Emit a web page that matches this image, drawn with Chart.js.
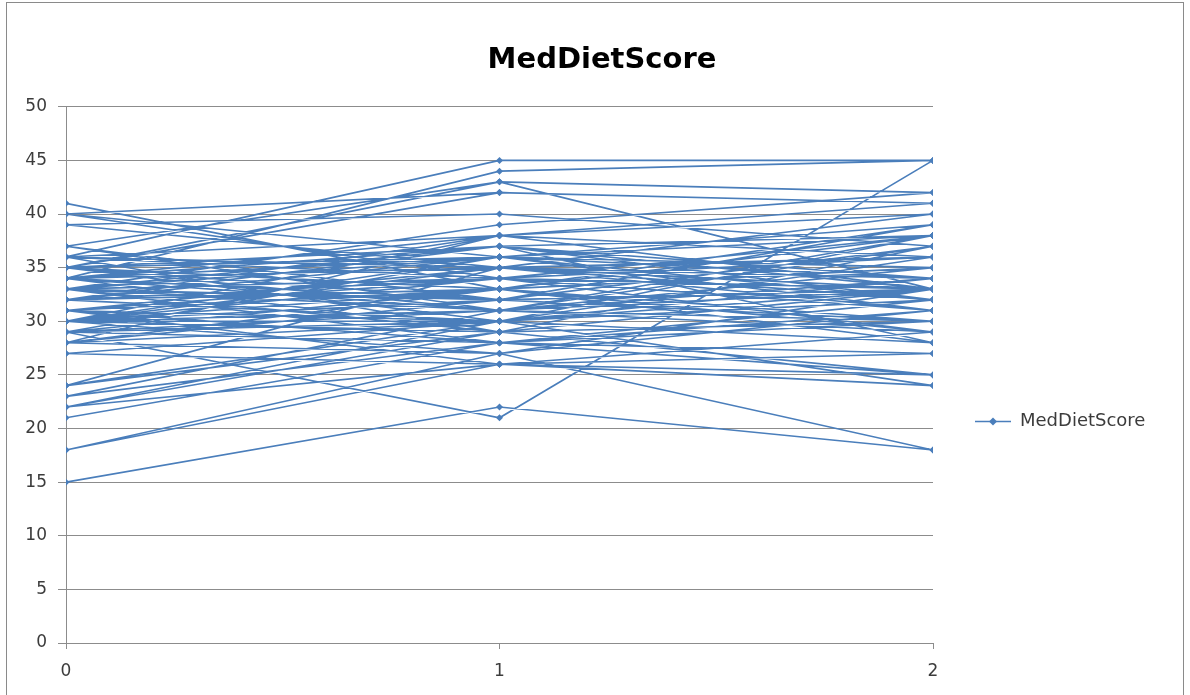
<!DOCTYPE html>
<html>
<head>
<meta charset="utf-8">
<script src="https://cdn.jsdelivr.net/npm/chart.js@4.4.1/dist/chart.umd.min.js"></script>
<style>
  html, body { margin: 0; padding: 0; background: #fff; }
  #wrap { width: 1190px; height: 695px; position: relative; }
</style>
</head>
<body>
<div id="wrap"><canvas id="chart" width="1190" height="695"></canvas></div>
<script>
// time points on the x axis
const timePoints = [0, 1, 2];
const yTicks = [0, 5, 10, 15, 20, 25, 30, 35, 40, 45, 50];
const seriesName = 'MedDietScore';

// one entry per subject: score at time 0, 1 and 2
const score0 = [15, 29, 18, 18, 21, 22, 22, 22, 23, 23, 24, 24, 24, 27, 27, 28, 28, 28, 29, 29,
                30, 30, 30, 30, 31, 31, 31, 32, 32, 32, 33, 33, 33, 34, 34, 34, 34, 35, 35, 35,
                35, 36, 36, 36, 37, 37, 39, 39, 40, 40, 40, 41, 29, 31, 33, 30, 32, 36, 34, 28,
                35, 33, 30, 37, 31, 29, 30, 31, 32, 33, 34, 35, 29, 30, 31, 32, 33, 34, 35, 36,
                28, 30, 32, 34, 31, 33, 29, 35, 32, 30, 34];
const score1 = [22, 21, 27, 26, 28, 29, 26, 30, 28, 31, 30, 29, 35, 26, 30, 38, 32, 27, 33, 30,
                34, 31, 36, 29, 35, 28, 33, 37, 30, 34, 36, 32, 29, 44, 38, 31, 35, 42, 33, 37,
                30, 45, 34, 38, 43, 32, 40, 35, 42, 34, 36, 33, 28, 26, 37, 32, 38, 29, 36, 33,
                43, 39, 27, 31, 35, 36, 35, 30, 34, 31, 37, 32, 33, 38, 30, 36, 34, 29, 31, 35,
                30, 33, 37, 32, 34, 28, 31, 36, 33, 30, 38];
const score2 = [18, 45, 33, 29, 32, 37, 24, 34, 31, 38, 33, 25, 40, 25, 33, 41, 30, 18, 35, 28,
                36, 33, 38, 30, 32, 27, 39, 34, 24, 33, 31, 37, 30, 45, 36, 29, 33, 41, 28, 38,
                32, 45, 31, 40, 42, 33, 37, 34, 41, 38, 39, 35, 25, 27, 33, 37, 40, 33, 35, 29,
                33, 42, 31, 30, 36, 32, 33, 38, 31, 35, 32, 37, 30, 33, 36, 34, 29, 33, 37, 31,
                33, 35, 28, 39, 33, 30, 34, 32, 38, 36, 33];

const lineColor = '#4a7ebb';
const gridColor = '#8c8c8c';
const textColor = '#3c3c3c';

// each subject is a short 0-1-2 line; a gap point breaks it from the next one
const points = [];
for (let i = 0; i < score0.length; i++) {
    points.push({ x: timePoints[0], y: score0[i] });
    points.push({ x: timePoints[1], y: score1[i] });
    points.push({ x: timePoints[2], y: score2[i] });
    points.push({ x: timePoints[2], y: null });
}

// grey frame round the whole chart, like the spreadsheet's chart border
const frame = {
    id: 'frame',
    beforeDraw(chart) {
        const ctx = chart.ctx;
        ctx.save();
        ctx.strokeStyle = '#8a8a8a';
        ctx.lineWidth = 1;
        ctx.strokeRect(6.5, 2.5, 1177, 720);
        ctx.restore();
    }
};

// legend drawn beside the plot, a bit below the middle as in the original
const sideLegend = {
    id: 'sideLegend',
    afterDraw(chart) {
        const ctx = chart.ctx;
        const ds = chart.data.datasets[0];
        const x0 = chart.chartArea.right + 42;
        const y = 421.5;
        ctx.save();
        ctx.strokeStyle = ds.borderColor;
        ctx.lineWidth = 1.5;
        ctx.beginPath();
        ctx.moveTo(x0, y);
        ctx.lineTo(x0 + 36, y);
        ctx.stroke();
        ctx.fillStyle = ds.borderColor;
        ctx.beginPath();
        ctx.moveTo(x0 + 18, y - 4);
        ctx.lineTo(x0 + 22, y);
        ctx.lineTo(x0 + 18, y + 4);
        ctx.lineTo(x0 + 14, y);
        ctx.closePath();
        ctx.fill();
        ctx.fillStyle = textColor;
        ctx.font = '18px "DejaVu Sans"';
        ctx.textBaseline = 'middle';
        ctx.fillText(ds.label, x0 + 45, y);
        ctx.restore();
    }
};

new Chart(document.getElementById('chart').getContext('2d'), {
    type: 'scatter',
    data: {
        datasets: [{
            label: seriesName,
            data: points,
            showLine: true,
            spanGaps: false,
            borderColor: lineColor,
            backgroundColor: lineColor,
            borderWidth: 1.6,
            pointStyle: 'rectRot',
            pointRadius: 3.5,
            pointBorderWidth: 0
        }]
    },
    options: {
        responsive: false,
        animation: false,
        devicePixelRatio: 1,
        layout: { padding: { left: 14, right: 0, top: 0, bottom: 0 } },
        scales: {
            x: {
                type: 'linear',
                min: timePoints[0],
                max: timePoints[timePoints.length - 1],
                afterBuildTicks: (s) => { s.ticks = timePoints.map(v => ({ value: v })); },
                afterFit: (s) => { s.height = 52; },
                grid: { drawOnChartArea: false, drawTicks: true, tickLength: 6, color: gridColor },
                border: { color: gridColor },
                ticks: { color: textColor, font: { family: 'DejaVu Sans', size: 17 }, padding: 12, maxRotation: 0 }
            },
            y: {
                min: yTicks[0],
                max: yTicks[yTicks.length - 1],
                afterBuildTicks: (s) => { s.ticks = yTicks.map(v => ({ value: v })); },
                afterFit: (s) => { s.width = 52; },
                grid: { color: gridColor, tickLength: 8 },
                border: { color: gridColor },
                ticks: { color: textColor, font: { family: 'DejaVu Sans', size: 17 }, padding: 11 }
            },
            // empty right-hand axis that only reserves the room where the legend sits
            legendRoom: {
                type: 'linear',
                position: 'right',
                display: true,
                afterFit: (s) => { s.width = 257; },
                grid: { display: false },
                border: { display: false },
                ticks: { display: false }
            }
        },
        plugins: {
            legend: { display: false },
            tooltip: { enabled: false },
            title: {
                display: true,
                text: seriesName,
                color: '#000',
                font: { family: 'DejaVu Sans', size: 29, weight: 'bold' },
                padding: { top: 43, bottom: 29 }
            }
        }
    },
    plugins: [frame, sideLegend]
});
</script>
</body>
</html>
